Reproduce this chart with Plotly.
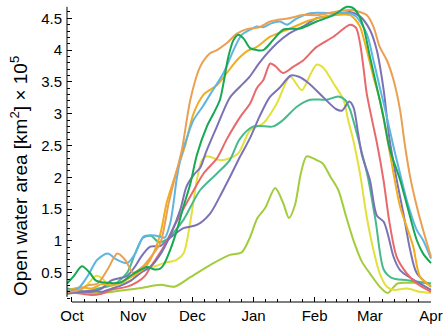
import plotly.graph_objects as go

# ---------------- data (days since Oct 1, open water area x1e5 km^2) ----------------
orange_day = [-2.5, 3, 8, 13, 18, 23, 27, 31, 36, 40, 44.7, 49, 52.3, 55.7, 60, 65, 70, 73.5, 78.5, 83.6, 88.6, 95, 100.5, 110, 117, 125, 133, 141, 146, 149.4, 152.8, 156, 159.6, 163, 166.3, 168.8, 171.4, 174.8, 178, 182]
orange_val = [0.2, 0.22, 0.3, 0.33, 0.55, 0.8, 0.7, 0.5, 0.6, 0.75, 0.96, 1.59, 2.01, 2.43, 3.22, 3.74, 3.95, 4.0, 4.11, 4.26, 4.33, 4.36, 4.45, 4.5, 4.55, 4.55, 4.6, 4.63, 4.6, 4.55, 4.37, 4.05, 3.84, 3.53, 3.06, 2.5, 2.01, 1.54, 1.17, 0.75]

blue_day = [-2.5, 3, 8, 12.7, 18, 23, 28, 32, 36.3, 40, 44.7, 47, 49.8, 51.5, 53.2, 55.5, 58, 61.6, 66, 70, 76.8, 81.9, 86, 90.3, 93.7, 97, 101, 105.5, 109, 114, 120.7, 133, 141, 144, 149.4, 152.8, 156, 159.6, 163, 166.3, 169.7, 174.8, 178, 182]
blue_val = [0.22, 0.25, 0.45, 0.7, 0.8, 0.7, 0.65, 0.8, 1.07, 1.09, 1.07, 1.05, 1.28, 1.6, 2.0, 2.35, 2.6, 2.9, 3.1, 3.3, 3.64, 4.0, 4.24, 4.32, 4.37, 4.36, 4.42, 4.45, 4.4, 4.5, 4.58, 4.58, 4.58, 4.53, 4.26, 3.84, 3.42, 2.95, 2.48, 2.06, 1.64, 1.17, 1.01, 0.72]

green_day = [-2.5, 1, 5, 9, 12, 18, 25, 30, 35, 38, 42, 44.5, 46.4, 49.8, 53, 56.5, 60, 63.3, 68.4, 71.7, 75, 76.8, 79.3, 81.9, 84.4, 87, 90.3, 93.7, 97, 102, 107, 115.7, 124, 132.5, 139.3, 142, 144.4, 147.7, 151, 154.5, 157.9, 161, 166.3, 171.4, 174.8, 178, 182]
green_val = [0.33, 0.45, 0.6, 0.5, 0.38, 0.34, 0.35, 0.46, 0.55, 0.59, 0.55, 0.56, 0.62, 0.86, 1.15, 1.54, 1.9, 2.35, 2.8, 3.0, 3.22, 3.48, 3.9, 4.16, 4.24, 4.18, 4.03, 4.0, 4.0, 4.16, 4.32, 4.34, 4.45, 4.55, 4.68, 4.67, 4.6, 4.37, 3.9, 3.42, 2.95, 2.45, 1.96, 1.38, 1.01, 0.8, 0.65]

gold_day = [-2.5, 5, 10, 15, 20, 25, 31, 36, 40, 44.7, 48, 51.5, 54.9, 57.4, 61.6, 66.7, 73.5, 78.5, 83.6, 88.6, 93.7, 100.5, 110.6, 120.7, 133, 141, 143, 146, 149.4, 152.8, 156, 159.6, 163, 166.3, 169.7, 173, 176.4, 182]
gold_val = [0.22, 0.27, 0.25, 0.32, 0.3, 0.35, 0.45, 0.55, 0.72, 1.1, 1.6, 1.95, 2.27, 2.5, 3.0, 3.3, 3.45, 3.64, 3.84, 3.98, 4.05, 4.21, 4.34, 4.47, 4.55, 4.55, 4.5, 4.37, 4.0, 3.58, 3.22, 2.65, 2.06, 1.54, 1.22, 0.91, 0.44, 0.28]

purpleA_day = [-2.5, 5, 10, 15, 20, 25, 30, 35, 40, 45, 50, 55, 58, 62, 65, 68, 73.5, 80, 85, 90, 95, 104, 110, 117, 124, 133, 141, 146, 151, 154.5, 158, 161, 164.6, 168, 171.4, 174.8, 182]
purpleA_val = [0.18, 0.2, 0.22, 0.2, 0.25, 0.3, 0.38, 0.5, 0.6, 0.8, 1.1, 1.5, 1.85, 2.05, 2.15, 2.4, 2.8, 3.25, 3.42, 3.58, 3.8, 4.11, 4.26, 4.37, 4.5, 4.55, 4.6, 4.53, 4.32, 4.0, 3.37, 2.59, 1.96, 1.43, 0.86, 0.49, 0.28]

red_day = [-2.5, 5, 10, 15, 20, 28, 33, 37, 40, 46, 53, 60, 66.7, 73.5, 78.5, 85.3, 90.3, 93.7, 97, 100.5, 103, 107, 112.3, 117.3, 124, 132.5, 141, 144, 146, 147.7, 149.4, 152.8, 154.5, 157.9, 161, 164.6, 169.7, 174.8, 182]
red_val = [0.2, 0.17, 0.15, 0.17, 0.23, 0.28, 0.35, 0.45, 0.6, 0.88, 1.3, 1.7, 2.06, 2.3, 2.6, 2.95, 3.16, 3.4, 3.53, 3.79, 3.75, 3.64, 3.74, 3.84, 4.05, 4.21, 4.40, 4.35, 4.11, 3.74, 3.32, 2.8, 2.55, 1.96, 1.28, 0.75, 0.49, 0.33, 0.2]

purpleB_day = [-2.5, 5, 10, 15, 20, 25, 28, 32, 35, 39.7, 44.7, 49.8, 56.5, 63.3, 70, 75, 80, 85.3, 90.3, 95, 100, 105, 111, 115, 120, 127, 134, 137, 140.5, 142.7, 145, 147, 151, 154.5, 158, 160.4, 163, 166.3, 173, 182]
purpleB_val = [0.17, 0.2, 0.2, 0.25, 0.38, 0.42, 0.45, 0.6, 0.75, 0.91, 0.92, 1.05, 1.2, 1.25, 1.43, 1.7, 2.0, 2.33, 2.62, 2.95, 3.25, 3.4, 3.6, 3.58, 3.48, 3.27, 3.07, 3.05, 3.19, 3.1, 2.7, 2.35, 1.96, 1.4, 1.3, 1.07, 0.75, 0.54, 0.39, 0.23]

teal_day = [-2.5, 3, 8, 13, 18, 23, 28, 32, 36, 40, 44, 48, 52, 56.5, 65, 73.5, 80, 85, 92, 102, 107, 114, 120.7, 129, 135, 138.4, 141, 143, 146, 150, 154, 158, 162, 170, 182]
teal_val = [0.25, 0.22, 0.2, 0.25, 0.28, 0.35, 0.5, 0.8, 1.05, 1.08, 0.98, 1.02, 1.15, 1.33, 1.8, 2.06, 2.27, 2.6, 2.8, 2.8, 2.9, 3.11, 3.22, 3.22, 3.27, 3.22, 3.06, 2.85, 2.5, 2.0, 1.3, 0.55, 0.42, 0.38, 0.33]

yellow_day = [-2.5, 3, 8, 12, 15, 19, 24, 30, 36, 42, 46.4, 53, 56.5, 60, 63.3, 65.9, 68.4, 75, 80, 84.4, 90.3, 97, 103.8, 110.6, 116.5, 120.7, 124, 127.5, 132.5, 137.6, 140, 142.7, 146, 149.4, 152.8, 156, 159.6, 163, 169.7, 176.4, 182]
yellow_val = [0.17, 0.2, 0.32, 0.45, 0.42, 0.3, 0.32, 0.38, 0.55, 0.6, 0.65, 0.7, 0.8, 1.3, 1.96, 2.27, 2.33, 2.27, 2.3, 2.38, 2.74, 2.85, 3.16, 3.58, 3.37, 3.61, 3.77, 3.72, 3.48, 3.22, 2.9, 2.57, 2.06, 1.38, 0.86, 0.49, 0.28, 0.23, 0.25, 0.2, 0.18]

lime_day = [-2.5, 5, 15, 25, 35, 45, 52, 60, 70, 80, 86, 90, 94, 98, 103, 107, 110, 113, 116, 119, 124, 127, 131, 135, 139, 143, 147, 151, 156, 160, 165, 172, 182]
lime_val = [0.2, 0.19, 0.18, 0.22, 0.26, 0.31, 0.28, 0.43, 0.62, 0.78, 0.82, 1.04, 1.36, 1.52, 1.83, 1.6, 1.36, 1.56, 2.06, 2.33, 2.27, 2.22, 2.01, 1.80, 1.38, 0.98, 0.67, 0.49, 0.28, 0.18, 0.33, 0.34, 0.33]

month_labels = ["Oct", "Nov", "Dec", "Jan", "Feb", "Mar", "Apr"]
month_days = [0, 31, 61, 92, 123, 151, 182]
y_ticks = [0.5, 1, 1.5, 2, 2.5, 3, 3.5, 4, 4.5]

series = [
    (lime_day, lime_val, "#A3CC3C"),
    (yellow_day, yellow_val, "#E3E03A"),
    (teal_day, teal_val, "#47BA8C"),
    (purpleB_day, purpleB_val, "#7B72B6"),
    (red_day, red_val, "#E8696C"),
    (purpleA_day, purpleA_val, "#7B72B6"),
    (gold_day, gold_val, "#F0AE1E"),
    (blue_day, blue_val, "#5DB6E2"),
    (orange_day, orange_val, "#EAA052"),
    (green_day, green_val, "#17A853"),
]

fig = go.Figure()
for d, v, c in series:
    fig.add_trace(go.Scatter(x=d, y=v, mode="lines",
                             line=dict(color=c, width=2, shape="spline", smoothing=0.8),
                             showlegend=False, hoverinfo="skip"))

# minor ticks: each month split into 5 parts
minor_x = []
for i in range(len(month_days) - 1):
    a, b = month_days[i], month_days[i + 1]
    for k in range(1, 5):
        minor_x.append(a + (b - a) * k / 5)

font = dict(family="Liberation Sans, Arial, sans-serif", size=15, color="black")
label_font = dict(family="Liberation Sans, Arial, sans-serif", size=19, color="black")

fig.update_layout(
    width=444, height=325,
    margin=dict(l=67, r=12, t=5, b=23),
    paper_bgcolor="white", plot_bgcolor="white",
    font=font,
    xaxis=dict(range=[-2.53, 182.5], automargin=False,
               showgrid=False, zeroline=False, showline=False,
               tickmode="array", tickvals=month_days, ticktext=month_labels,
               ticks="inside", ticklen=5, tickcolor="black", tickwidth=1,
               ticklabelstandoff=3,
               minor=dict(tickmode="array", tickvals=minor_x, ticks="inside", ticklen=3,
                          tickcolor="black", tickwidth=1, showgrid=False)),
    yaxis=dict(range=[0.039, 4.709], automargin=False,
               showgrid=False, zeroline=False, showline=False,
               tickmode="array", tickvals=y_ticks, ticktext=[("%g" % t) for t in y_ticks],
               ticks="inside", ticklen=5, tickcolor="black", tickwidth=1,
               ticklabelstandoff=4,
               minor=dict(tickmode="linear", tick0=0, dtick=0.1, ticks="inside", ticklen=3,
                          tickcolor="black", tickwidth=1, showgrid=False)),
    shapes=[
        dict(type="line", xref="x", yref="paper", x0=0, x1=182, y0=0, y1=0,
             line=dict(color="black", width=1)),
        dict(type="line", xref="paper", yref="y", x0=0, x1=0, y0=0.12, y1=4.68,
             line=dict(color="black", width=1)),
    ],
    annotations=[
        dict(text="Open water area [km<sup>2</sup>] × 10<sup>5</sup>", textangle=-90,
             xref="paper", yref="paper", x=-(67 - 19) / 365, y=(302 - 176) / 297,
             xanchor="center", yanchor="middle", showarrow=False, font=label_font),
    ],
)

fig.write_html("out.html")
